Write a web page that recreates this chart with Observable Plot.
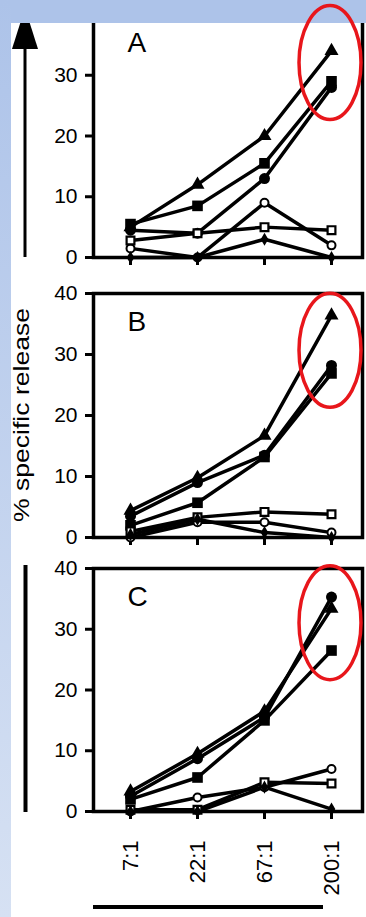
<!DOCTYPE html>
<html><head><meta charset="utf-8">
<script src="https://cdn.jsdelivr.net/npm/d3@7"></script>
<script src="https://cdn.jsdelivr.net/npm/@observablehq/plot@0.6"></script>
<style>
html,body{margin:0;padding:0;background:#fff;}
#wrap{position:relative;width:366px;height:917px;overflow:hidden;background:#fff;font-family:"Liberation Sans",Arial,sans-serif;}
#wrap > svg, #wrap > div{position:absolute;left:0;}
</style></head><body><div id="wrap"></div>
<script>
// ---- data ----
const ratios = ["7:1", "22:1", "67:1", "200:1"];
const panels = ["A", "B", "C"];
const series = ["filled triangle", "filled square", "filled circle", "open circle", "open square", "filled diamond"];
const yTicks = [0, 10, 20, 30, 40];

// panel A (% specific release per E:T ratio)
const triangleA   = [5, 12, 20, 34];
const squareA     = [5.5, 8.5, 15.5, 29];
const circleA     = [4.5, 4, 13, 28];
const openCircleA = [1.5, 0, 9, 2];
const openSquareA = [2.8, 4, 5, 4.5];
const diamondA    = [0, 0, 3, 0];
// panel B
const triangleB   = [4.4, 9.8, 16.7, 36.4];
const squareB     = [2, 5.7, 13.2, 26.9];
const circleB     = [3.5, 9, 13.5, 28.2];
const openCircleB = [0, 2.5, 2.5, 0.8];
const openSquareB = [1, 3.3, 4.2, 3.8];
const diamondB    = [0.5, 3, 0.8, 0];
// panel C
const triangleC   = [3.3, 9.5, 16.5, 33.4];
const squareC     = [2, 5.6, 15, 26.5];
const circleC     = [2.5, 8.7, 15.5, 35.3];
const openCircleC = [0, 2.3, 4, 7];
const openSquareC = [0.3, 0.3, 4.8, 4.6];
const diamondC    = [0, 0, 4, 0.4];

// highlighted points (ellipse centre value at 200:1)
const highlightCenter = [32, 30.6, 31];

const seriesValues = {
  A: [triangleA, squareA, circleA, openCircleA, openSquareA, diamondA],
  B: [triangleB, squareB, circleB, openCircleB, openSquareB, diamondB],
  C: [triangleC, squareC, circleC, openCircleC, openSquareC, diamondC]
};
const rows = [];
for (const p of panels) seriesValues[p].forEach((vals, si) => vals.forEach((v, i) => rows.push({panel: p, series: series[si], ratio: ratios[i], value: v})));

// ---- styles ----
const symbolOf = ["triangle", "square", "circle", "circle", "square", "diamond"];
const fillOf = ["black", "black", "black", "white", "white", "black"];
const rOf = [5.2, 6, 5.5, 4, 4.4, 4];
const swOf = [0, 0, 0, 2, 2.2, 0];
const FONT = "'Liberation Sans', Arial, Helvetica, sans-serif";

const wrap = document.getElementById("wrap");
const layout = {A: {top: 0, mt: 14, h: 268, mb: 11}, B: {top: 280, mt: 13, h: 267, mb: 10}, C: {top: 555, mt: 13, h: 340, mb: 84}};
const charts = {};

for (const p of panels) {
  const L = layout[p];
  const data = rows.filter(d => d.panel === p);
  const dots = series.map((s, si) => Plot.dot(data.filter(d => d.series === s), {
    x: "ratio", y: "value", symbol: symbolOf[si], r: rOf[si], fill: fillOf[si], stroke: "black", strokeWidth: swOf[si]
  }));
  const chart = Plot.plot({
    width: 366, height: L.h,
    marginLeft: 93, marginRight: 4, marginTop: L.mt, marginBottom: L.mb,
    style: {fontFamily: FONT, background: "transparent", overflow: "visible", color: "black"},
    x: {type: "point", domain: ratios, range: [130, 331], padding: 0, label: null},
    y: {domain: [0, 40], label: null},
    marks: [
      Plot.axisY({ticks: yTicks, tickSize: 8, tickPadding: 8, fontSize: 21, strokeWidth: 3, stroke: "black", fill: "black", label: null}),
      Plot.axisX({tickSize: 8, strokeWidth: 3, stroke: "black", fill: "black", label: null, fontSize: 22,
        tickFormat: p === "C" ? (d => d) : (() => ""), tickRotate: p === "C" ? -90 : 0, tickPadding: 21}),
      Plot.line(data, {x: "ratio", y: "value", z: "series", stroke: "black", strokeWidth: 3.5}),
      ...dots,
      Plot.frame({stroke: "black", strokeWidth: 3.5}),
      Plot.text([p], {frameAnchor: "top-left", dx: 34, dy: 18, text: d => d, fontSize: 28, textAnchor: "start", lineAnchor: "top", fill: "black"})
    ]
  });
  chart.style.top = L.top + "px";
  wrap.appendChild(chart);
  charts[p] = chart;
}

// ---- decorations (under the slide band) ----
const deco = d3.create("svg").attr("width", 366).attr("height", 917).style("top", "0px").style("pointer-events", "none");
deco.append("line").attr("x1", 25).attr("x2", 25).attr("y1", 40).attr("y2", 257).attr("stroke", "black").attr("stroke-width", 3);
deco.append("path").attr("d", "M12,49 L38,49 L25,8 Z").attr("fill", "black");
deco.append("line").attr("x1", 25.5).attr("x2", 25.5).attr("y1", 565).attr("y2", 812).attr("stroke", "black").attr("stroke-width", 4);
deco.append("line").attr("x1", 93).attr("x2", 323).attr("y1", 907).attr("y2", 907).attr("stroke", "black").attr("stroke-width", 4);
deco.append("text").attr("transform", "translate(29,415) rotate(-90)").attr("text-anchor", "middle")
  .attr("font-family", FONT).attr("font-size", 22).attr("fill", "black")
  .attr("textLength", 214).attr("lengthAdjust", "spacingAndGlyphs").text("% specific release");
wrap.appendChild(deco.node());

// ---- slide band ----
const bandTop = document.createElement("div");
bandTop.style.cssText = "top:0;width:366px;height:23px;background:#adc3e9;";
wrap.appendChild(bandTop);
const bandLeft = document.createElement("div");
bandLeft.style.cssText = "top:0;width:11px;height:917px;background:linear-gradient(#adc3e9,#d6e1f3);";
wrap.appendChild(bandLeft);

// ---- red highlight ellipses (above band) ----
const over = d3.create("svg").attr("width", 366).attr("height", 917).style("top", "0px").style("pointer-events", "none");
panels.forEach((p, i) => {
  const c = charts[p], sx = c.scale("x"), sy = c.scale("y");
  over.append("ellipse")
    .attr("cx", sx.apply("200:1") - 1)
    .attr("cy", layout[p].top + sy.apply(highlightCenter[i]))
    .attr("rx", 31).attr("ry", 57)
    .attr("fill", "none").attr("stroke", "#e8161b").attr("stroke-width", 3.5);
});
wrap.appendChild(over.node());
</script></body></html>
